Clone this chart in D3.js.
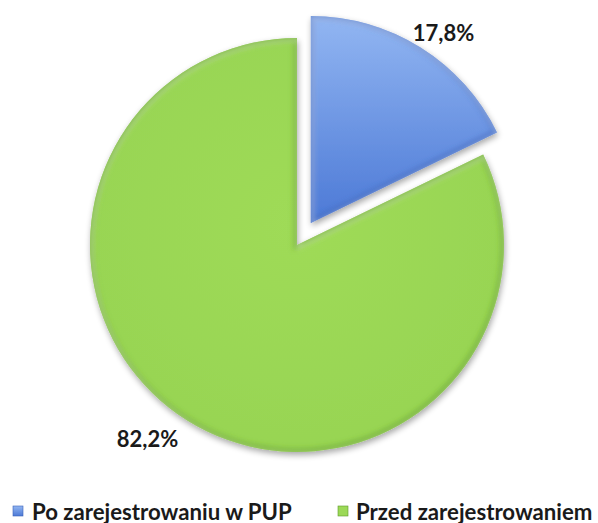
<!DOCTYPE html>
<html><head><meta charset="utf-8">
<script src="https://cdn.jsdelivr.net/npm/d3@7"></script>
<style>body{margin:0;background:#fff;}svg{display:block;}</style>
</head><body>
<svg id="c" width="598" height="523"></svg>
<script>
const categories = ["Po zarejestrowaniu w PUP", "Przed zarejestrowaniem"];
const values = [17.8, 82.2];
const labels = ["17,8%", "82,2%"];
const colors = ["#6f9ae6", "#9cd957"];

const svg = d3.select("#c");
const cx = 297, cy = 245, R = 207, explode = 26;
const font = "Lato, 'Open Sans', sans-serif";

const defs = svg.append("defs");
const gb = defs.append("linearGradient").attr("id","gBlue").attr("x1",0).attr("y1",0).attr("x2",0).attr("y2",1);
gb.append("stop").attr("offset","0%").attr("stop-color","#92b6f2");
gb.append("stop").attr("offset","100%").attr("stop-color","#4c79d6");
const gg = defs.append("radialGradient").attr("id","gGreen").attr("cx","50%").attr("cy","45%").attr("r","60%");
gg.append("stop").attr("offset","0%").attr("stop-color","#9fdb58");
gg.append("stop").attr("offset","100%").attr("stop-color","#97d452");
const fills = ["url(#gBlue)", "url(#gGreen)"];
const edge = ["#3a62b8", "#5f9a2a"];

const f = defs.append("filter").attr("id","sh").attr("x","-10%").attr("y","-10%").attr("width","130%").attr("height","130%");
f.append("feGaussianBlur").attr("in","SourceAlpha").attr("stdDeviation",3);
f.append("feOffset").attr("dx",1).attr("dy",3).attr("result","b");
f.append("feComponentTransfer").append("feFuncA").attr("type","linear").attr("slope",0.35);
const fm = f.append("feMerge"); fm.append("feMergeNode"); fm.append("feMergeNode").attr("in","SourceGraphic");

const blur = defs.append("filter").attr("id","bl").attr("x","-10%").attr("y","-10%").attr("width","120%").attr("height","120%");
blur.append("feGaussianBlur").attr("stdDeviation",2.5);

const pie = d3.pie().sort(null).value(d => d)(values);
const arc = d3.arc().innerRadius(0).outerRadius(R);

const g = svg.append("g").attr("transform", `translate(${cx},${cy})`);
pie.forEach((d, i) => {
  const mid = (d.startAngle + d.endAngle) / 2;
  const off = i === 0 ? explode : 0;
  const tx = Math.sin(mid) * off, ty = -Math.cos(mid) * off;
  const sg = g.append("g").attr("transform", `translate(${tx},${ty})`);
  const p = arc(d);
  defs.append("clipPath").attr("id","cp"+i).append("path").attr("d", p).attr("transform", `translate(${cx+tx},${cy+ty})`);
  sg.append("path").attr("d", p).attr("fill", fills[i]).attr("filter","url(#sh)");
  const inner = svg.append("g").attr("clip-path", `url(#cp${i})`);
  inner.append("path").attr("d", p).attr("transform", `translate(${cx+tx},${cy+ty})`)
    .attr("fill","none").attr("stroke", edge[i]).attr("stroke-width",7).attr("stroke-opacity",0.55).attr("filter","url(#bl)");
  inner.append("path").attr("d", p).attr("transform", `translate(${cx+tx+1.5},${cy+ty+2})`)
    .attr("fill","none").attr("stroke", "#ffffff").attr("stroke-width",4).attr("stroke-opacity",0.35).attr("filter","url(#bl)");
});

// data labels
const lab = [[443.5, 32], [147.5, 438]];
labels.forEach((t, i) => {
  svg.append("text").attr("x", lab[i][0]).attr("y", lab[i][1]).attr("text-anchor","middle")
    .attr("dominant-baseline","central").attr("font-family", font).attr("font-weight","bold")
    .attr("font-size", 22).attr("fill","#1a1a1a").text(t);
});

// legend
const leg = [[13, 511, 19], [338, 511, 18]];
categories.forEach((c, i) => {
  const lg = svg.append("g").attr("transform", `translate(${leg[i][0]},${leg[i][1]})`);
  lg.append("rect").attr("x",0).attr("y",-5).attr("width",10).attr("height",10).attr("fill", i===0 ? "url(#gBlue)" : colors[1]).attr("stroke", edge[i]).attr("stroke-width",0.6);
  lg.append("text").attr("x",leg[i][2]).attr("y",0).attr("dominant-baseline","central")
    .attr("font-family", font).attr("font-weight","bold").attr("font-size",22.2).attr("fill","#1a1a1a").text(c);
});
</script>
</body></html>
